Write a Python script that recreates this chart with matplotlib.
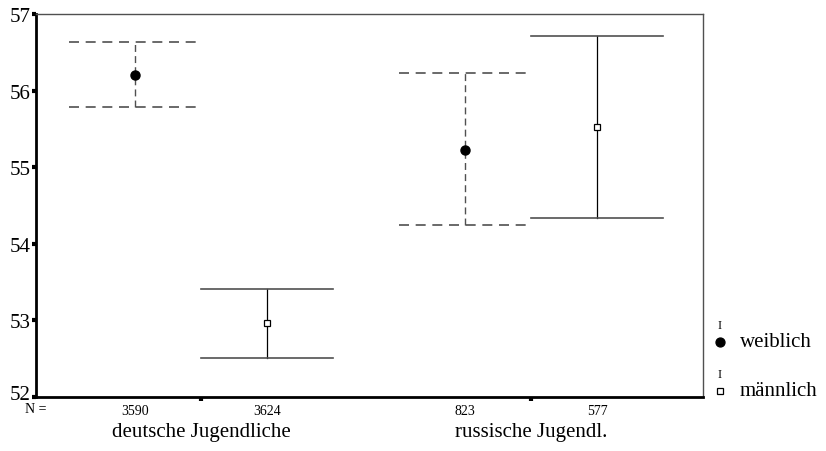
import numpy as np
import matplotlib.pyplot as plt
import matplotlib.transforms as mtransforms
from matplotlib.lines import Line2D

plt.rcParams['font.family'] = ['Liberation Serif', 'DejaVu Serif']

# data
groups = ["deutsche Jugendliche", "russische Jugendl."]
n_weiblich = [3590, 823]
n_maennlich = [3624, 577]
mean_w = [56.21, 55.23]
lo_w = [55.78, 54.25]
hi_w = [56.63, 56.23]
mean_m = [52.96, 55.52]
lo_m = [52.51, 54.34]
hi_m = [53.41, 56.71]

pos_w = [1.5, 6.5]
pos_m = [3.5, 8.5]
grey = "#505050"

fig = plt.figure(figsize=(8.26, 4.52), dpi=100)
ax = fig.add_axes([36 / 826, 1 - 398 / 452, 667 / 826, 383 / 452])

for x, m, lo, hi in zip(pos_w, mean_w, lo_w, hi_w):
    ax.plot([x, x], [lo, hi], color=grey, lw=1, ls=(0, (5, 3)))
    for y in (lo, hi):
        ax.plot([x - 1, x + 1], [y, y], color=grey, lw=1.2, ls=(0, (6, 4)))
    ax.plot(x, m, "o", color="black", ms=6.5)

for x, m, lo, hi in zip(pos_m, mean_m, lo_m, hi_m):
    ax.plot([x, x], [lo, hi], color="black", lw=0.9)
    for y in (lo, hi):
        ax.plot([x - 1, x + 1], [y, y], color=grey, lw=1.2)
    ax.plot(x, m, "s", mfc="white", mec="black", mew=0.9, ms=4.5)

ax.set_xlim(0, 10.1)
ax.set_ylim(52, 57)
ax.set_yticks([52, 53, 54, 55, 56, 57])
ax.tick_params(axis="y", labelsize=15, length=3, width=3, direction="out", pad=1)
ax.set_xticks([2.5, 7.5])
ax.set_xticklabels([])
ax.tick_params(axis="x", length=3, width=3, direction="out")

# lift the lowest y label a bit, as in the reference
lbl = ax.get_yticklabels()[0]
lbl.set_transform(lbl.get_transform() + mtransforms.ScaledTranslation(0, 5 / 100, fig.dpi_scale_trans))

for side in ("left", "bottom"):
    ax.spines[side].set_linewidth(2)
for side in ("top", "right"):
    ax.spines[side].set_linewidth(1)
    ax.spines[side].set_color(grey)

for x, n in zip(pos_w + pos_m, n_weiblich + n_maennlich):
    ax.text(x, 51.83, str(n), ha="center", va="center", fontsize=10)
fig.text(25 / 826, 1 - 410 / 452, "N =", ha="left", va="center", fontsize=10)
for x, g in zip([2.5, 7.5], groups):
    ax.text(x, 51.55, g, ha="center", va="center", fontsize=15)

# legend
def leg_item(y_icon, y_mark, marker, mfc, label):
    fx = 720 / 826
    fig.text(fx, 1 - y_icon / 452, "I", ha="center", va="center", fontsize=9)
    fig.add_artist(Line2D([fx], [1 - y_mark / 452], marker=marker, mfc=mfc,
                          mec="black", ms=6.5 if marker == "o" else 4.5, mew=0.9,
                          transform=fig.transFigure))
    fig.text(740 / 826, 1 - y_mark / 452, label, ha="left", va="center", fontsize=15)

leg_item(326, 343, "o", "black", "weiblich")
leg_item(375, 392, "s", "white", "männlich")

fig.savefig("out.png", dpi=100)
